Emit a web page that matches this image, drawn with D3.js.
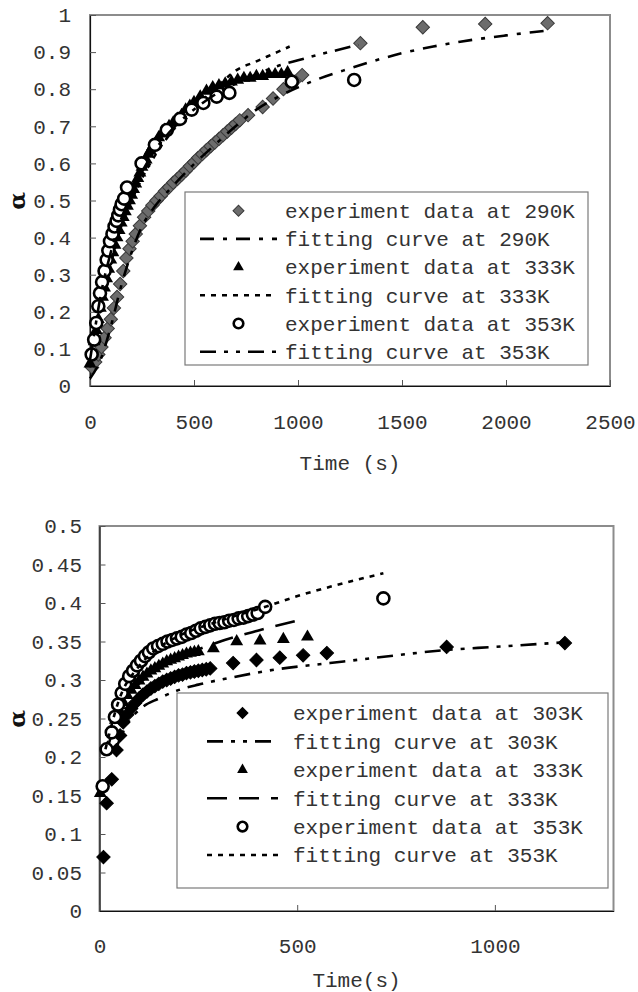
<!DOCTYPE html>
<html><head><meta charset="utf-8">
<script src="https://cdn.jsdelivr.net/npm/d3@7"></script>
<style>body{margin:0;background:#fff}svg{display:block}</style>
</head><body>
<svg id="chart" width="638" height="992"></svg>
<script>
// ---- 上图：290K / 333K / 353K ----
const exp290 = [[10,.05],[25,.065],[40,.085],[55,.105],[70,.13],[85,.155],[100,.18],[115,.21],[130,.24],[145,.275],[160,.31],[175,.345],[190,.37],[205,.39],[220,.41],[240,.432],[260,.455],[280,.472],[300,.487],[320,.50],[340,.512],[360,.525],[380,.536],[400,.548],[420,.558],[440,.569],[460,.58],[480,.592],[500,.603],[520,.615],[540,.625],[560,.636],[580,.646],[600,.656],[620,.666],[640,.676],[660,.686],[680,.696],[700,.706],[720,.716],[760,.73],[830,.752],[880,.775],[930,.80],[980,.82],[1020,.838],[1300,.924],[1600,.967],[1900,.976],[2200,.978]];
const fit290 = [[0,.02],[50,.07],[100,.16],[150,.27],[200,.36],[250,.43],[300,.475],[400,.54],[500,.598],[600,.65],[700,.70],[800,.745],[900,.778],[1000,.805],[1100,.828],[1250,.856],[1400,.882],[1500,.897],[1650,.915],[1780,.928],[2000,.945],[2200,.958]];
const exp333 = [[0,.06],[10,.09],[20,.12],[30,.15],[40,.18],[50,.21],[60,.24],[70,.265],[80,.29],[90,.315],[100,.34],[110,.36],[120,.38],[130,.40],[140,.42],[150,.44],[160,.455],[170,.47],[180,.485],[190,.50],[200,.515],[210,.53],[220,.545],[230,.56],[240,.575],[250,.59],[260,.60],[270,.61],[280,.625],[290,.635],[300,.645],[315,.655],[330,.67],[345,.68],[360,.69],[380,.70],[400,.71],[420,.72],[440,.73],[460,.745],[480,.755],[500,.765],[530,.78],[560,.795],[590,.805],[620,.81],[650,.815],[680,.82],[710,.825],[740,.83],[770,.83],[800,.835],[830,.835],[860,.84],[890,.84],[920,.84],[950,.845]];
const fit333 = [[0,.05],[20,.12],[50,.21],[100,.33],[150,.43],[200,.50],[250,.56],[300,.61],[400,.69],[500,.75],[600,.80],[700,.85],[800,.875],[900,.90],[960,.915]];
const exp353 = [[8,.085],[20,.125],[30,.17],[40,.215],[48,.25],[58,.28],[70,.31],[80,.34],[88,.365],[96,.39],[108,.41],[118,.43],[128,.445],[136,.46],[144,.475],[152,.49],[164,.505],[178,.535],[248,.60],[312,.65],[369,.69],[433,.72],[489,.745],[545,.763],[609,.78],[670,.79],[970,.82],[1270,.825]];
const fit353 = [[0,.07],[20,.14],[50,.24],[100,.36],[150,.45],[200,.52],[300,.625],[400,.695],[500,.745],[600,.785],[700,.815],[800,.84],[900,.862],[1000,.878],[1100,.893],[1200,.907],[1290,.92]];
const topYTicks = [0,.1,.2,.3,.4,.5,.6,.7,.8,.9,1];
const topXTicks = [0,500,1000,1500,2000,2500];
const topLegend = ["experiment data at 290K","fitting curve at 290K","experiment data at 333K","fitting curve at 333K","experiment data at 353K","fitting curve at 353K"];

// ---- 下图：303K / 333K / 353K ----
const exp303 = [[10,.07],[18,.14],[31,.171],[43,.209],[52,.228],[60,.245],[70,.255],[80,.263],[90,.27],[100,.276],[110,.281],[120,.285],[130,.289],[140,.292],[150,.295],[160,.298],[170,.30],[180,.302],[190,.304],[200,.306],[210,.307],[220,.309],[230,.31],[240,.311],[250,.312],[260,.313],[270,.314],[280,.315],[338,.322],[397,.326],[456,.329],[515,.332],[575,.335],[878,.343],[1177,.348]];
const fit303 = [[45,.215],[70,.243],[102,.262],[150,.276],[195,.286],[250,.294],[322,.302],[450,.314],[583,.322],[700,.329],[878,.339],[1000,.343],[1177,.349]];
const exp333b = [[2,.153],[20,.212],[30,.232],[40,.248],[50,.261],[60,.271],[70,.28],[80,.287],[90,.293],[100,.299],[110,.304],[120,.308],[130,.312],[140,.315],[150,.318],[160,.321],[170,.324],[180,.326],[190,.328],[200,.33],[210,.332],[220,.334],[230,.335],[240,.336],[250,.337],[288,.341],[347,.35],[406,.351],[465,.353],[526,.356]];
const fit333b = [[20,.21],[50,.262],[100,.295],[150,.315],[237,.337],[300,.349],[400,.364],[507,.378]];
const exp353b = [[8,.162],[18,.21],[31,.232],[39,.252],[47,.268],[56,.283],[65,.295],[75,.305],[85,.312],[95,.319],[105,.325],[115,.331],[125,.336],[136,.341],[148,.344],[160,.347],[172,.35],[184,.352],[196,.354],[208,.356],[220,.359],[232,.361],[244,.364],[256,.367],[268,.369],[280,.371],[292,.373],[304,.374],[316,.375],[328,.377],[340,.378],[352,.38],[364,.381],[376,.383],[388,.385],[400,.387],[419,.395],[718,.406]];
const fit353b = [[15,.21],[50,.275],[100,.318],[150,.342],[200,.357],[300,.376],[431,.397],[507,.41],[583,.421],[718,.4386]];
const botYTicks = [0,.05,.1,.15,.2,.25,.3,.35,.4,.45,.5];
const botXTicks = [0,500,1000];
const botLegend = ["experiment data at 303K","fitting curve at 303K","experiment data at 333K","fitting curve at 333K","experiment data at 353K","fitting curve at 353K"];

const FONT = "'Liberation Mono','Courier New',monospace";
const INK = "#333";
const svg = d3.select("#chart");

// 菱形 = 旋转 45° 的方块
const MARK = {
  diamond: (g, fill, size) => g.append("path").attr("d", d3.symbol(d3.symbolSquare, size || 90)())
    .attr("transform", "rotate(45)").attr("fill", fill).attr("stroke", fill === "#000" ? "#000" : "#3a3a3a").attr("stroke-width", 1),
  triangle: (g, fill, size) => g.append("path").attr("d", d3.symbol(d3.symbolTriangle, size || 72)())
    .attr("fill", "#000"),
  circle: (g, fill, size) => g.append("circle").attr("r", size ? 4.8 : 6)
    .attr("fill", "#fff").attr("stroke", "#000").attr("stroke-width", 2.6),
};

function panel(o) {
  const x = d3.scaleLinear().domain([0, o.xMax]).range([o.L, o.R]);
  const y = d3.scaleLinear().domain([0, o.yMax]).range([o.B, o.T]);
  const g = svg.append("g");

  // 绘图区边框（灰）
  g.append("rect").attr("x", o.L).attr("y", o.T)
    .attr("width", o.R - o.L).attr("height", o.B - o.T)
    .attr("fill", "none").attr("stroke", "#8c8c8c").attr("stroke-width", 2);

  const fmt = d => String(+d.toFixed(2));
  const ya = g.append("g").attr("transform", `translate(${o.L},0)`)
    .call(d3.axisLeft(y).tickValues(o.yTicks).tickFormat(fmt)
      .tickSizeInner(-6).tickSizeOuter(0).tickPadding(o.yPad));
  const xa = g.append("g").attr("transform", `translate(0,${o.B})`)
    .call(d3.axisBottom(x).tickValues(o.xTicks).tickFormat(d3.format("d"))
      .tickSizeInner(-6).tickSizeOuter(0).tickPadding(o.xPad));
  [ya, xa].forEach(a => {
    a.attr("font-family", FONT).attr("font-size", 21);
    a.select(".domain").attr("stroke", "#111").attr("stroke-width", 1.2);
    a.selectAll(".tick line").attr("stroke", "#555");
    a.selectAll(".tick text").attr("fill", INK);
  });

  // 系列：先数据点，再拟合线（Excel 绘制顺序）
  const line = d3.line().x(d => x(d[0])).y(d => y(d[1])).curve(d3.curveMonotoneX);
  o.series.forEach(s => {
    if (s.dash) {
      g.append("path").attr("d", line(s.data)).attr("fill", "none")
        .attr("stroke", "#000").attr("stroke-width", 2.6).attr("stroke-dasharray", s.dash);
    } else {
      s.data.forEach(d => {
        const m = g.append("g").attr("transform", `translate(${x(d[0])},${y(d[1])})`);
        MARK[s.mark](m, s.fill);
      });
    }
  });

  // 图例
  const lg = o.legend;
  g.append("rect").attr("x", lg.x0).attr("y", lg.y0)
    .attr("width", lg.x1 - lg.x0).attr("height", lg.y1 - lg.y0)
    .attr("fill", "#fff").attr("stroke", "#7a7a7a").attr("stroke-width", 1.2);
  o.series.forEach((s, i) => {
    const cy = lg.row0 + i * lg.step;
    if (s.dash) {
      g.append("line").attr("x1", lg.sx0).attr("x2", lg.sx1).attr("y1", cy).attr("y2", cy)
        .attr("stroke", "#000").attr("stroke-width", 2.6).attr("stroke-dasharray", s.dash);
    } else {
      const m = g.append("g").attr("transform", `translate(${(lg.sx0 + lg.sx1) / 2},${cy})`);
      MARK[s.mark](m, s.fill, s.mark === "diamond" ? 60 : s.mark === "triangle" ? 50 : 1);
    }
    g.append("text").attr("x", lg.tx).attr("y", cy).attr("dy", "0.35em")
      .attr("font-family", FONT).attr("font-size", 21).attr("fill", INK)
      .text(o.labels[i]);
  });

  // 轴标题
  g.append("text").attr("x", (o.L + o.R) / 2).attr("y", o.titleY).attr("dy", "0.35em")
    .attr("text-anchor", "middle").attr("font-family", FONT).attr("font-size", 21)
    .attr("fill", INK).text(o.xTitle);
  g.append("text").attr("transform", `translate(${o.alphaX},${o.alphaY}) rotate(-90)`)
    .attr("text-anchor", "middle").attr("dy", "0.35em")
    .attr("font-family", "'DejaVu Serif',serif").attr("font-weight", "bold").attr("font-size", 23)
    .attr("fill", "#111").text("α");
}

panel({
  L: 90, R: 610, T: 15, B: 386, xMax: 2500, yMax: 1,
  yTicks: topYTicks, xTicks: topXTicks, yPad: 19, xPad: 28,
  series: [
    { data: exp290, mark: "diamond", fill: "#6c6c6c" },
    { data: fit290, dash: "14,9,4,9" },
    { data: exp333, mark: "triangle" },
    { data: fit333, dash: "5,6" },
    { data: exp353, mark: "circle" },
    { data: fit353, dash: "16,8,4,8,4,8" },
  ],
  labels: topLegend,
  legend: { x0: 185, y0: 192, x1: 588, y1: 365, row0: 210.7, step: 28.2, sx0: 200, sx1: 277, tx: 285 },
  xTitle: "Time (s)", titleY: 463, alphaX: 17, alphaY: 201,
});

panel({
  L: 99.5, R: 613.5, T: 526, B: 911, xMax: 1300, yMax: 0.5,
  yTicks: botYTicks, xTicks: botXTicks, yPad: 17.5, xPad: 27,
  series: [
    { data: exp303, mark: "diamond", fill: "#000" },
    { data: fit303, dash: "16,8,4,8,4,8" },
    { data: exp333b, mark: "triangle" },
    { data: fit333b, dash: "20,12" },
    { data: exp353b, mark: "circle" },
    { data: fit353b, dash: "5,6" },
  ],
  labels: botLegend,
  legend: { x0: 177, y0: 693, x1: 608, y1: 888, row0: 713, step: 28.4, sx0: 207, sx1: 278, tx: 293 },
  xTitle: "Time(s)", titleY: 980, alphaX: 17, alphaY: 719,
});
</script>
</body></html>
